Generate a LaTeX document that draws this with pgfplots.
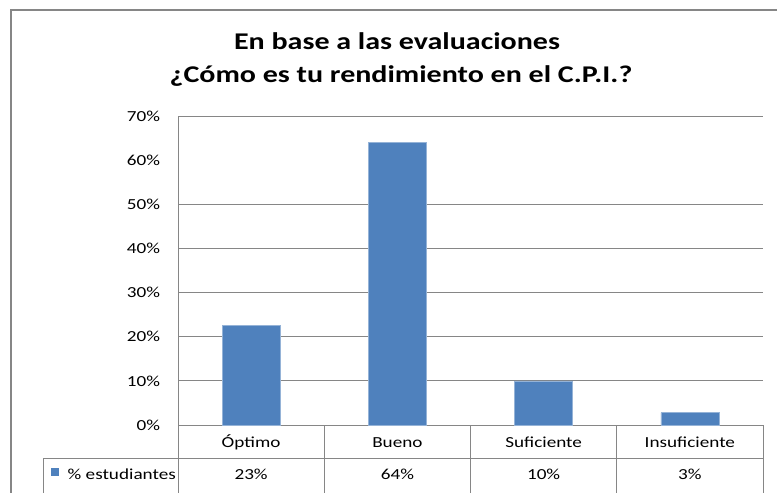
\documentclass[border=0pt]{standalone}
\usepackage{fontspec}
\setmainfont{Carlito}[FakeStretch=1.25]
\usepackage{pgfplots}
\pgfplotsset{compat=1.18}
\definecolor{barblue}{HTML}{4F81BD}
\definecolor{linegray}{HTML}{868686}
\begin{document}
\begin{tikzpicture}
\def\u{0.75pt}
\clip (0,0) rectangle (777*\u,-492*\u);
\draw[linegray, line width=1.5pt] (11*\u,-600*\u) -- (11*\u,-10*\u) -- (900*\u,-10*\u);
\node[anchor=base, font=\fontsize{18}{21}\selectfont\bfseries] at (397*\u,-50*\u) {En base a las evaluaciones};
\node[anchor=base, font=\fontsize{18}{21}\selectfont\bfseries] at (401*\u,-83*\u) {¿Cómo es tu rendimiento en el C.P.I.?};
\begin{axis}[
  at={(178*\u,-425*\u)}, anchor=south west,
  scale only axis, width=585*\u, height=309*\u,
  xmin=-0.5, xmax=3.5, ymin=0, ymax=70,
  ybar, bar width=43.5pt,
  axis x line*=bottom, axis y line*=left,
  axis line style={linegray, line width=0.75pt},
  major tick length=0,
  /pgf/number format/assume math mode=true,
  ytick={0,10,...,70},
  yticklabel={\pgfmathprintnumber{\tick}\%},
  y tick label style={font=\fontsize{11.5}{13}\selectfont, xshift=-10pt},
  extra y ticks={10,20,30,40,50,70},
  extra y tick labels={},
  extra y tick style={grid=major},
  major grid style={linegray, line width=0.75pt},
  xtick={0,1,2,3},
  xticklabels={Óptimo,Bueno,Suficiente,Insuficiente},
  x tick label style={font=\fontsize{11.5}{13}\selectfont, anchor=base, yshift=-17pt},
  clip=false,
]
\addplot[fill=barblue, draw=barblue!60!white, line width=0.5pt] coordinates {(0,22.6) (1,64) (2,10) (3,2.8)};
\end{axis}
\draw[linegray, line width=0.75pt] (43*\u,-458*\u) -- (763*\u,-458*\u);
\draw[linegray, line width=0.75pt] (43*\u,-458*\u) -- (43*\u,-500*\u);
\foreach \xx in {178,324.25,470.5,616.75,763}
  \draw[linegray, line width=0.75pt] (\xx*\u,-425*\u) -- (\xx*\u,-500*\u);
\fill[barblue] (51*\u,-468*\u) rectangle (59*\u,-476*\u);
\begin{scope}[every node/.style={font=\fontsize{11.5}{13}\selectfont}]
\node[anchor=base west] at (63*\u,-479*\u) {\% estudiantes};
\node[anchor=base] at (251.1*\u,-479*\u) {23\%};
\node[anchor=base] at (397.4*\u,-479*\u) {64\%};
\node[anchor=base] at (543.6*\u,-479*\u) {10\%};
\node[anchor=base] at (689.9*\u,-479*\u) {3\%};
\end{scope}
\end{tikzpicture}
\end{document}
